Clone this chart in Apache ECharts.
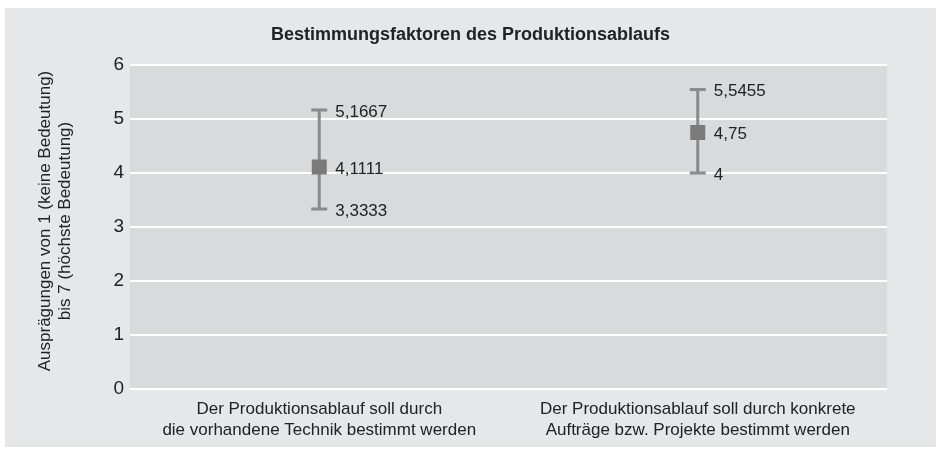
<!DOCTYPE html>
<html>
<head>
<meta charset="utf-8">
<script src="https://cdn.jsdelivr.net/npm/echarts@6/dist/echarts.min.js"></script>
<style>
  html, body { margin: 0; padding: 0; background: #fff; }
  #chart { width: 941px; height: 455px; }
</style>
</head>
<body>
<div id="chart"></div>
<script>
// Daten
var categories = ['Der Produktionsablauf soll durch\ndie vorhandene Technik bestimmt werden',
  'Der Produktionsablauf soll durch konkrete\nAufträge bzw. Projekte bestimmt werden'];
var minValues = [3.3333, 4];
var meanValues = [4.1111, 4.75];
var maxValues = [5.1667, 5.5455];
var yTicks = [0, 1, 2, 3, 4, 5, 6];

var font = '"Liberation Sans", sans-serif';
var fmt = function (v) { return String(v).replace('.', ','); };

var chart = echarts.init(document.getElementById('chart'));

var errData = categories.map(function (c, i) {
  return [i, minValues[i], meanValues[i], maxValues[i]];
});

function renderErr(params, api) {
  var x = api.coord([api.value(0), 0])[0];
  var pMin = api.coord([api.value(0), api.value(1)]);
  var pMax = api.coord([api.value(0), api.value(3)]);
  var pMean = api.coord([api.value(0), api.value(2)]);
  var style = { stroke: '#8a8a8a', lineWidth: 3 };
  var cap = 8;
  var labelStyle = function (v, y) {
    return { type: 'text', style: { text: fmt(v), x: x + 16, y: y + 2, fill: '#222',
      font: '17px ' + font, verticalAlign: 'middle', textAlign: 'left' } };
  };
  return { type: 'group', children: [
    { type: 'line', shape: { x1: x, y1: pMin[1], x2: x, y2: pMax[1] }, style: style },
    { type: 'line', shape: { x1: x - cap, y1: pMin[1], x2: x + cap, y2: pMin[1] }, style: style },
    { type: 'line', shape: { x1: x - cap, y1: pMax[1], x2: x + cap, y2: pMax[1] }, style: style },
    { type: 'rect', shape: { x: x - 7.5, y: pMean[1] - 7.5, width: 15, height: 15 }, style: { fill: '#7a7a7a' } },
    labelStyle(api.value(3), pMax[1]),
    labelStyle(api.value(2), pMean[1]),
    labelStyle(api.value(1), pMin[1])
  ]};
}

var option = {
  animation: false,
  textStyle: { fontFamily: font },
  graphic: [{
    type: 'rect', z: -10, silent: true,
    shape: { x: 5, y: 8, width: 931, height: 439 },
    style: { fill: '#e6e7e8' }
  }],
  title: {
    text: 'Bestimmungsfaktoren des Produktionsablaufs',
    left: 'center', top: 21,
    textStyle: { fontFamily: font, fontSize: 18, fontWeight: 'bold', color: '#222' }
  },
  grid: {
    left: 130, right: 54, top: 65, bottom: 66,
    show: true, backgroundColor: '#d9dadb', borderWidth: 0
  },
  xAxis: {
    type: 'category',
    data: categories,
    axisLine: { show: false },
    axisTick: { show: false },
    axisLabel: { color: '#222', fontSize: 17, lineHeight: 21, margin: 10, interval: 0, fontFamily: font }
  },
  yAxis: {
    type: 'value',
    min: 0, max: 6, interval: 1,
    name: 'Ausprägungen von 1 (keine Bedeutung)\nbis 7 (höchste Bedeutung)',
    nameLocation: 'middle',
    nameRotate: 90,
    nameGap: 55,
    nameTextStyle: { color: '#222', fontSize: 17, lineHeight: 20, fontFamily: font, padding: [0, 0, 0, 12] },
    axisLine: { show: false },
    axisTick: { show: false },
    splitLine: { lineStyle: { color: '#ffffff', width: 2 } },
    axisLabel: {
      color: '#222', fontSize: 19, margin: 6, fontFamily: font,
      formatter: function (v) { return yTicks.indexOf(v) >= 0 ? String(v) : ''; }
    }
  },
  series: [{
    type: 'custom',
    renderItem: renderErr,
    data: errData,
    z: 5
  }]
};

chart.setOption(option);
</script>
</body>
</html>
